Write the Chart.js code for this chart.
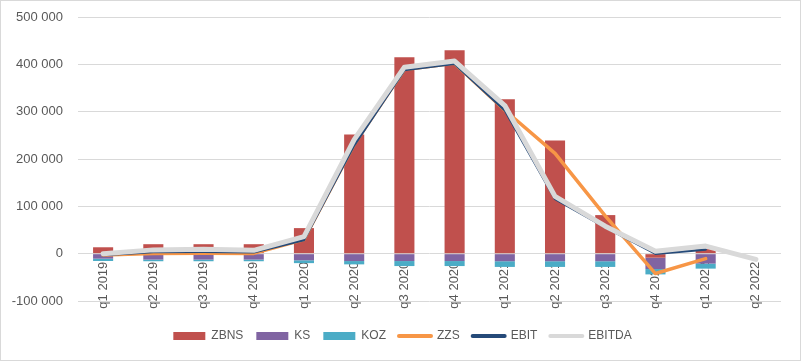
<!DOCTYPE html>
<html>
<head>
<meta charset="utf-8">
<script src="https://cdn.jsdelivr.net/npm/chart.js@4/dist/chart.umd.min.js"></script>
<style>
html,body{margin:0;padding:0;background:#fff;}
#wrap{width:801px;height:361px;position:relative;}
canvas{display:block;}
</style>
</head>
<body>
<div id="wrap"><canvas id="c" width="801" height="361"></canvas></div>
<script>
// ---- data ----
const categories = ['q1 2019','q2 2019','q3 2019','q4 2019','q1 2020','q2 2020','q3 2020','q4 2020','q1 2021','q2 2021','q3 2021','q4 2021','q1 2022','q2 2022'];
const zbns   = [13500, 20000, 20000, 20000, 54000, 252000, 415000, 430000, 326000, 239000, 81500, -8500, 10000, null];
const ks     = [-10500, -12500, -12500, -12500, -14000, -15600, -15600, -15600, -16000, -16000, -16000, -24000, -21000, null];
const koz    = [-5000, -3500, -3500, -3500, -6000, -7000, -10600, -10600, -12000, -12000, -12000, -11300, -10600, null];
const zzs    = [-3000, 500, 1000, 500, 30000, 231000, 389000, 402000, 303000, 212000, 80000, -42000, -10500, null];
const ebit   = [-3000, 3500, 4000, 3000, 29000, 229000, 388000, 401000, 303000, 115500, 56000, 0, 9000, null];
const ebitda = [0, 8000, 9500, 7000, 36000, 241000, 394000, 407000, 313000, 121000, 58000, 5000, 16000, -12000];
const yTickValues = [-100000, 0, 100000, 200000, 300000, 400000, 500000];

const FONT = "'Liberation Sans', Arial, sans-serif";
Chart.defaults.font.family = FONT;

function fmt(v){
  const s = String(Math.abs(v)).replace(/\B(?=(\d{3})+(?!\d))/g, ' ');
  return (v < 0 ? '-' : '') + s;
}

const borderPlugin = {
  id: 'outerBorder',
  afterDraw(chart){
    const ctx = chart.ctx;
    ctx.save();
    ctx.strokeStyle = '#d9d9d9';
    ctx.lineWidth = 1;
    ctx.strokeRect(0.5, 0.5, 800, 360);
    ctx.restore();
  }
};

const LEGEND_H = 60;
const LEGEND_SHIFT_Y = 16;
const LEGEND_SHIFT_X = 12;
const legendFix = {
  id: 'legendFix',
  beforeLayout(chart){
    const lg = chart.legend;
    if (lg && !lg._wrappedFit){
      const f = lg.fit;
      lg.fit = function(){ f.call(this); this.height = LEGEND_H; };
      lg._wrappedFit = true;
    }
  },
  afterLayout(chart){
    const lg = chart.legend;
    if (lg){
      lg.top += LEGEND_SHIFT_Y;
      lg.left += LEGEND_SHIFT_X;
      lg.right += LEGEND_SHIFT_X;
    }
  }
};

const barCommon = { type: 'bar', stack: 'bars', order: 10, categoryPercentage: 1, barPercentage: 0.4, borderWidth: 0 };
const lineCommon = { type: 'line', pointRadius: 0, pointHoverRadius: 0, tension: 0, fill: false, borderCapStyle: 'round', borderJoinStyle: 'round', spanGaps: false };

new Chart(document.getElementById('c'), {
  type: 'bar',
  data: {
    labels: categories,
    datasets: [
      Object.assign({}, barCommon, { label: 'ZBNS', data: zbns, backgroundColor: '#C0504D' }),
      Object.assign({}, barCommon, { label: 'KS', data: ks, backgroundColor: '#8064A2' }),
      Object.assign({}, barCommon, { label: 'KOZ', data: koz, backgroundColor: '#4BACC6' }),
      Object.assign({}, lineCommon, { label: 'ZZS', data: zzs, borderColor: '#F79646', backgroundColor: '#F79646', borderWidth: 3.5, stack: 'zzs', order: 3 }),
      Object.assign({}, lineCommon, { label: 'EBIT', data: ebit, borderColor: '#254A79', backgroundColor: '#254A79', borderWidth: 2.5, stack: 'ebit', order: 2 }),
      Object.assign({}, lineCommon, { label: 'EBITDA', data: ebitda, borderColor: '#D9D9D9', backgroundColor: '#D9D9D9', borderWidth: 5, stack: 'ebitda', order: 1 })
    ]
  },
  options: {
    responsive: false,
    animation: false,
    devicePixelRatio: 1,
    layout: { padding: { top: 17, right: 20, bottom: 0, left: 0 } },
    plugins: {
      tooltip: { enabled: false },
      legend: {
        position: 'bottom',
        labels: {
          usePointStyle: true,
          pointStyleWidth: 32,
          boxHeight: 8,
          padding: 13,
          color: '#595959',
          font: { family: FONT, size: 12 },
          generateLabels(chart){
            const items = Chart.defaults.plugins.legend.labels.generateLabels(chart);
            items.forEach(it => {
              const ds = chart.data.datasets[it.datasetIndex];
              if (ds.type === 'line'){
                it.pointStyle = 'line';
                it.strokeStyle = ds.borderColor;
                it.lineWidth = 4;
                it.lineCap = 'round';
              } else {
                it.pointStyle = 'rect';
                it.fillStyle = ds.backgroundColor;
                it.strokeStyle = ds.backgroundColor;
                it.lineWidth = 0;
              }
            });
            items.sort((a, b) => a.datasetIndex - b.datasetIndex);
            return items;
          }
        }
      }
    },
    scales: {
      x: {
        position: { y: 0 },
        stacked: true,
        offset: true,
        grid: { display: false, drawTicks: false },
        border: { display: false },
        ticks: { minRotation: 90, maxRotation: 90, autoSkip: false, padding: 8, color: '#595959', font: { family: FONT, size: 13 } }
      },
      y: {
        stacked: true,
        min: -100000,
        max: 500000,
        grid: { color: '#d9d9d9', lineWidth: 1, drawTicks: false },
        border: { display: false },
        afterBuildTicks(scale){ scale.ticks = yTickValues.map(v => ({ value: v })); },
        afterFit(scale){ scale.width = 78; scale.paddingTop = 0; scale.paddingBottom = 0; },
        ticks: { padding: 15, color: '#595959', font: { family: FONT, size: 13 }, callback: v => fmt(v) }
      }
    }
  },
  plugins: [borderPlugin, legendFix]
});
</script>
</body>
</html>
